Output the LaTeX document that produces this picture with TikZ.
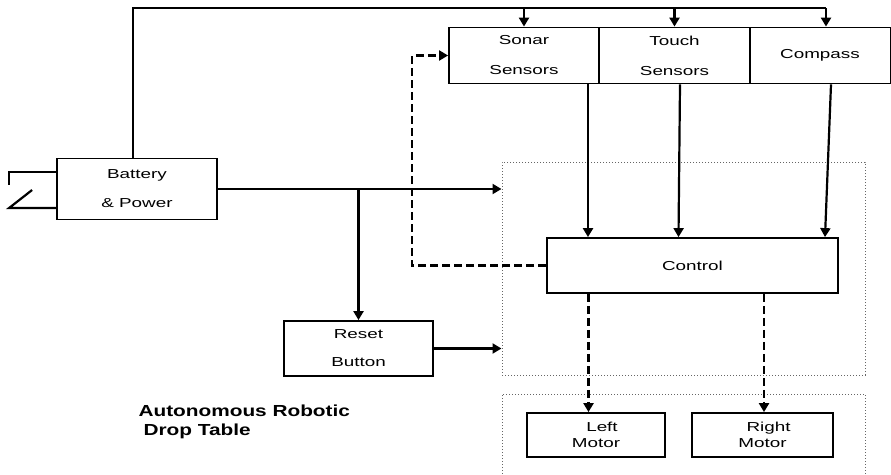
\documentclass[tikz,border=0pt]{standalone}
\usepackage{fontspec}
\setmainfont{Liberation Sans}
\newfontfamily\boxfont[FakeStretch=1.45]{Liberation Sans}
\newfontfamily\titlefont[FakeStretch=1.3]{Liberation Sans}
\usetikzlibrary{arrows.meta}

\tikzset{block/.style={draw,line width=1.8pt,font=\boxfont\fontsize{13}{15}\selectfont,align=center,inner sep=0pt},
         wire/.style={line width=2.2pt},
         arrow/.style={wire,-{Triangle[length=9pt,width=10pt]}},
         dasharrow/.style={arrow,dash pattern=on 8pt off 4pt},
         zone/.style={draw,gray!80!black,line width=1pt,dotted,inner sep=0pt}}

\begin{document}
\begin{tikzpicture}[x=1pt,y=-1pt]
        \useasboundingbox (0,0) rectangle (891,474);
        \node[block,minimum width=150,minimum height=56] (sonar) at (524,55.5) {Sonar\\[15pt]Sensors};
        \node[block,minimum width=151,minimum height=56] (touch) at (674.5,55.5) {Touch\\[15pt]Sensors};
        \node[block,minimum width=141,minimum height=56] (compass) at (820,55.5) {Compass};
        \node[zone,minimum width=363,minimum height=213] (logic) at (683.5,268.5) {};
        \node[block,minimum width=291,minimum height=55] (control) at (692.5,265.5) {Control};
        \node[block,minimum width=160,minimum height=61] (battery) at (137,189) {Battery\\[14pt]\& Power};
        \node[block,minimum width=149,minimum height=55] (reset) at (358.5,348.5) {Reset\\[13pt]Button};
        \node[block,minimum width=138,minimum height=44] (lmotor) at (596,435) {\hspace{12pt}Left\\[1pt]Motor};
        \node[block,minimum width=141,minimum height=44] (rmotor) at (762.5,435) {\hspace{12pt}Right\\[1pt]Motor};
        \node[anchor=west,align=left,font=\titlefont\bfseries\fontsize{16}{19}\selectfont] (title) at (135,422) {Autonomous Robotic\\\hspace{5pt}Drop Table};
        \coordinate (bus) at (0,8);
        \coordinate (loop) at (412,0);
        % motor zone, open at the bottom
        \draw[zone] (502,474) |- (865,394) -- (865,474);
        % supply bus
        \draw[wire] ([xshift=-4]battery.north) |- ([xshift=6]compass.north |- bus);
        \draw[arrow] (sonar.north |- bus) -- (sonar.north);
        \draw[arrow] (touch.north |- bus) -- (touch.north);
        \draw[arrow] ([xshift=6]compass.north |- bus) -- ([xshift=6]compass.north);
        % switch
        \draw[wire] ([yshift=17]battery.west) -- ++(-47,0) -- ++(0,13);
        \draw[wire] ([yshift=-19]battery.west) -- ++(-47,0) -- ++(23,-18);
        % power and reset
        \draw[arrow] (battery.east) -- (battery.east -| logic.west);
        \draw[arrow] (battery.east -| reset.north) -- (reset.north);
        \draw[arrow] (reset.east) -- (reset.east -| logic.west);
        % sensors to control
        \draw[arrow] ([xshift=64]sonar.south) -- ([xshift=64]sonar.south |- control.north);
        \draw[arrow] ([xshift=5.5]touch.south) -- ([xshift=-14]control.north);
        \draw[arrow] ([xshift=11]compass.south) -- ([xshift=132.5]control.north);
        % control back to sonar
        \draw[dasharrow] (control.west) -| (loop |- sonar.west) -- (sonar.west);
        % control to motors
        \draw[dasharrow] ([xshift=-104]control.south) -- ([xshift=-104]control.south |- lmotor.north);
        \draw[dasharrow] ([xshift=71.5]control.south) -- ([xshift=71.5]control.south |- rmotor.north);
    \end{tikzpicture}
\end{document}
